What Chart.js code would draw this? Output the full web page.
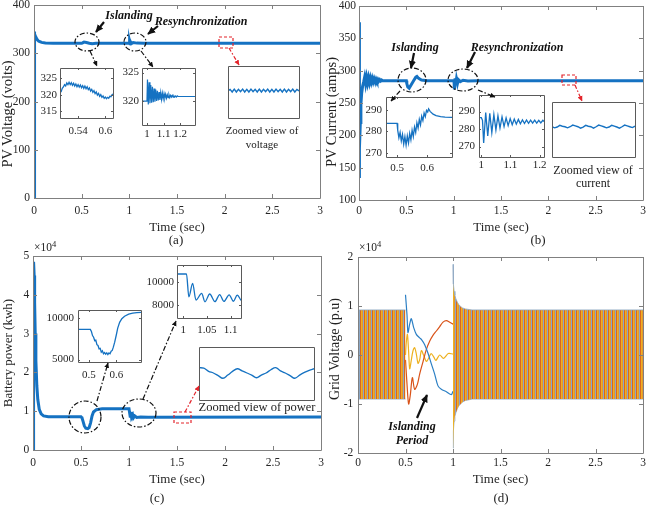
<!DOCTYPE html>
<html>
<head>
<meta charset="utf-8">
<title>PV, battery and grid response</title>
<script src="https://cdn.jsdelivr.net/npm/chart.js@4.4.1/dist/chart.umd.min.js"></script>
<style>
  html, body { margin: 0; padding: 0; background: #fff; }
  #fig { position: relative; width: 647px; height: 505px; overflow: hidden; background: #fff; }
  #fig canvas { position: absolute; }
  #ann { position: absolute; left: 0; top: 0; pointer-events: none; font-family: "Liberation Serif", serif; fill: #222; }
  #ann .note { font-weight: bold; font-style: italic; font-size: 12px; fill: #111; }
</style>
</head>
<body>
<div id="fig">
  <canvas id="ca" width="324" height="240" style="left:0;top:0"></canvas>
  <canvas id="cb" width="323" height="240" style="left:324px;top:0"></canvas>
  <canvas id="cc" width="324" height="260" style="left:0;top:245px"></canvas>
  <canvas id="cd" width="323" height="260" style="left:324px;top:245px"></canvas>

  <canvas id="a1" width="78" height="75" style="left:38px;top:65px"></canvas>
  <canvas id="a2" width="78" height="82" style="left:120px;top:65px"></canvas>
  <canvas id="a3" width="77" height="58" style="left:225px;top:63px"></canvas>
  <canvas id="b1" width="91" height="85" style="left:364px;top:94px"></canvas>
  <canvas id="b2" width="90" height="87" style="left:457px;top:92px"></canvas>
  <canvas id="b3" width="89" height="61" style="left:549px;top:99px"></canvas>
  <canvas id="c1" width="100" height="77" style="left:44px;top:307px"></canvas>
  <canvas id="c2" width="101" height="78" style="left:143px;top:262px"></canvas>
  <canvas id="c3" width="121" height="59" style="left:196px;top:344px"></canvas>

  <svg id="ann" width="647" height="505" viewBox="0 0 647 505">
    <defs>
      <marker id="hk" viewBox="0 0 10 10" refX="9" refY="5" markerUnits="userSpaceOnUse" markerWidth="8" markerHeight="8" orient="auto"><path d="M0,0.5 L10,5 L0,9.5 z" fill="#111"/></marker>
      <marker id="hs" viewBox="0 0 10 10" refX="9" refY="5" markerUnits="userSpaceOnUse" markerWidth="5.5" markerHeight="5.5" orient="auto"><path d="M0,0.5 L10,5 L0,9.5 z" fill="#111"/></marker>
      <marker id="hr" viewBox="0 0 10 10" refX="9" refY="5" markerUnits="userSpaceOnUse" markerWidth="5.5" markerHeight="5.5" orient="auto"><path d="M0,0.5 L10,5 L0,9.5 z" fill="#e3242b"/></marker>
    </defs>

    <!-- solid pointers from the event labels -->
    <g stroke="#111" stroke-width="2.2" fill="none">
      <line x1="104" y1="22" x2="96" y2="32" marker-end="url(#hk)"/>
      <line x1="158" y1="26" x2="148" y2="34" marker-end="url(#hk)"/>
      <line x1="414" y1="53" x2="411" y2="68" marker-end="url(#hk)"/>
      <line x1="475" y1="52" x2="467" y2="68" marker-end="url(#hk)"/>
      <line x1="417" y1="418" x2="427" y2="395" marker-end="url(#hk)"/>
    </g>

    <!-- dash-dot circles and leaders to the insets -->
    <g stroke="#111" stroke-width="1.2" fill="none" stroke-dasharray="5 2 1.5 2">
      <ellipse cx="87" cy="42" rx="12" ry="9"/>
      <ellipse cx="135" cy="42" rx="11" ry="9"/>
      <ellipse cx="412" cy="80" rx="14" ry="12"/>
      <ellipse cx="463" cy="80" rx="15" ry="11"/>
      <ellipse cx="85" cy="417" rx="16" ry="16"/>
      <ellipse cx="139" cy="413" rx="17" ry="14"/>
      <line x1="90" y1="51" x2="97" y2="66" marker-end="url(#hs)"/>
      <line x1="141" y1="51" x2="153" y2="67" marker-end="url(#hs)"/>
      <line x1="400" y1="91" x2="391" y2="101" marker-end="url(#hs)"/>
      <line x1="478" y1="90" x2="495" y2="97" marker-end="url(#hs)"/>
      <line x1="97" y1="401" x2="108" y2="363" marker-end="url(#hs)"/>
      <line x1="143" y1="399" x2="176" y2="321" marker-end="url(#hs)"/>
    </g>

    <!-- red zoom markers -->
    <g stroke="#e3242b" stroke-width="1.2" fill="none">
      <rect x="219" y="37" width="14" height="11" stroke-dasharray="3 2"/>
      <rect x="562" y="75" width="14" height="10" stroke-dasharray="3 2"/>
      <rect x="174" y="412" width="17" height="11" stroke-dasharray="3 2"/>
      <line x1="229" y1="48" x2="239" y2="65" stroke-dasharray="4 2 1.5 2" marker-end="url(#hr)"/>
      <line x1="575" y1="85" x2="582" y2="101" stroke-dasharray="4 2 1.5 2" marker-end="url(#hr)"/>
      <line x1="185" y1="412" x2="199" y2="386" stroke-dasharray="4 2 1.5 2" marker-end="url(#hr)"/>
    </g>

    <g text-anchor="middle" dominant-baseline="central">
      <text class="note" x="129" y="15">Islanding</text>
      <text class="note" x="201" y="21">Resynchronization</text>
      <text class="note" x="415" y="47">Islanding</text>
      <text class="note" x="517" y="47">Resynchronization</text>
      <text class="note" x="412" y="426">Islanding</text>
      <text class="note" x="412" y="440">Period</text>

      <text x="262" y="130" font-size="11">Zoomed view of</text>
      <text x="262" y="144" font-size="11">voltage</text>
      <text x="593" y="170" font-size="12">Zoomed view of</text>
      <text x="593" y="183" font-size="12">current</text>
      <text x="257" y="407" font-size="12.5">Zoomed view of power</text>

      <text x="176" y="239" font-size="13">(a)</text>
      <text x="538" y="239" font-size="13">(b)</text>
      <text x="157" y="497" font-size="13">(c)</text>
      <text x="501" y="497" font-size="13">(d)</text>

      <text transform="translate(6.5,114) rotate(-90)" font-size="14.5">PV Voltage (volts)</text>
      <text transform="translate(331,112) rotate(-90)" font-size="14.5">PV Current (amps)</text>
      <text transform="translate(7,353) rotate(-90)" font-size="13">Battery power (kwh)</text>
      <text transform="translate(334,349) rotate(-90)" font-size="14">Grid Voltage (p.u)</text>
    </g>
    <text x="34" y="251" font-size="11.5">×10<tspan dy="-4" font-size="8.5">4</tspan></text>
    <text x="359" y="251" font-size="11.5">×10<tspan dy="-4" font-size="8.5">4</tspan></text>
  </svg>
</div>

<script>
// ---- (a) PV voltage ----
const tA = [0, 0.002, 0.005, 0.01, 0.02, 0.035, 0.05, 0.08, 0.12, 0.2, 0.5, 0.51, 0.525, 0.55, 0.58, 0.61, 0.65, 1.0, 1.003, 1.008, 1.013, 1.02, 1.04, 1.08, 1.15, 3];
const vA = [0, 330, 345, 340, 333, 328, 325, 322.5, 321.2, 320.5, 320.5, 321.5, 323.3, 322.4, 320.8, 319.6, 320.5, 320.5, 324, 319.5, 323, 320, 322, 321, 320.8, 320.8];

const tA1 = [0.5, 0.5025, 0.505, 0.5075, 0.51, 0.5125, 0.515, 0.5175, 0.52, 0.5225, 0.525, 0.5275, 0.53, 0.5325, 0.535, 0.5375, 0.54, 0.5425, 0.545, 0.5475, 0.55, 0.5525, 0.555, 0.5575, 0.56, 0.5625, 0.565, 0.5675, 0.57, 0.5725, 0.575, 0.5775, 0.58, 0.5825, 0.585, 0.5875, 0.59, 0.5925, 0.595, 0.5975, 0.6, 0.6025, 0.605, 0.6075, 0.61, 0.6125, 0.615, 0.617];
const vA1 = [320.8, 320.9, 321.9, 322.3, 323.0, 322.6, 323.5, 323.0, 323.7, 323.0, 323.6, 322.8, 323.4, 322.6, 323.2, 322.4, 323.0, 322.3, 322.9, 322.1, 322.7, 321.9, 322.6, 321.8, 322.4, 321.5, 322.0, 321.1, 321.6, 320.7, 321.2, 320.3, 320.8, 319.9, 320.4, 319.5, 320.0, 319.2, 319.6, 318.9, 319.3, 318.8, 319.2, 318.9, 319.5, 319.4, 320.0, 320.2];

const tA2 = [0.97, 1.0, 1.003, 1.008, 1.013, 1.018, 1.023, 1.028, 1.033, 1.038, 1.043, 1.048, 1.053, 1.058, 1.063, 1.068, 1.073, 1.078, 1.083, 1.088, 1.093, 1.098, 1.103, 1.108, 1.113, 1.118, 1.123, 1.128, 1.133, 1.138, 1.143, 1.148, 1.153, 1.158, 1.163, 1.168, 1.173, 1.178, 1.183, 1.188, 1.2, 1.29];
const vA2 = [320, 320, 323.8, 319.4, 323.3, 319.6, 322.8, 319.7, 322.5, 319.8, 322.2, 319.9, 322.0, 320.0, 321.8, 320.1, 321.6, 320.2, 321.5, 320.3, 321.4, 320.4, 321.3, 320.5, 321.2, 320.5, 321.1, 320.6, 321.1, 320.6, 321.0, 320.7, 321.0, 320.7, 320.9, 320.7, 320.9, 320.7, 320.9, 320.8, 320.8, 320.8];

const zoomVoltage = [0.52, 0.55, 0.5, 0.555, 0.5, 0.55, 0.505, 0.555, 0.5, 0.55, 0.5, 0.555, 0.505, 0.55, 0.5, 0.555, 0.5, 0.55, 0.505, 0.555, 0.5, 0.55, 0.5, 0.555, 0.505, 0.55, 0.5, 0.555, 0.5, 0.55, 0.505, 0.555, 0.5, 0.55, 0.52];

// ---- (b) PV current ----
const tB = [0, 0.001, 0.003, 0.005, 0.009, 0.014, 0.02, 0.028, 0.038, 0.05, 0.06, 0.07, 0.08, 0.09, 0.1, 0.11, 0.12, 0.13, 0.14, 0.15, 0.16, 0.17, 0.18, 0.19, 0.2, 0.21, 0.22, 0.23, 0.24, 0.25, 0.3, 0.5, 0.505, 0.515, 0.53, 0.55, 0.575, 0.6, 0.612, 0.63, 0.66, 0.72, 1.0, 1.004, 1.008, 1.015, 1.022, 1.03, 1.04, 1.05, 1.07, 1.1, 1.15, 1.25, 3];
const vB = [150, 375, 250, 134, 180, 220, 248, 265, 276, 283, 290, 280, 289.5, 281, 289, 281.5, 288.5, 282, 288, 282.5, 287.5, 283, 287, 283.5, 286.5, 283.8, 286, 284, 285.5, 284.3, 284.5, 284.5, 280, 275, 273, 278, 284, 290, 291, 288, 285.5, 284.5, 284.5, 283, 271, 288, 278, 287, 280, 286, 283, 285.2, 284.2, 284.5, 284.5];

const tB1 = [0.463, 0.5, 0.502, 0.506, 0.51, 0.514, 0.518, 0.522, 0.526, 0.53, 0.534, 0.538, 0.542, 0.546, 0.55, 0.554, 0.558, 0.562, 0.566, 0.57, 0.574, 0.578, 0.582, 0.586, 0.59, 0.594, 0.598, 0.602, 0.605, 0.61, 0.62, 0.63, 0.645, 0.66, 0.683];
const vB1 = [283.7, 283.7, 280.5, 277.0, 279.5, 275.5, 278.5, 274.0, 277.5, 273.5, 277.8, 274.5, 279.0, 276.0, 280.5, 277.5, 282.0, 279.5, 284.0, 281.5, 285.5, 283.0, 287.0, 285.0, 288.5, 286.8, 289.8, 289.0, 290.5, 289.3, 288.0, 287.3, 286.8, 286.6, 286.5];

const tB2 = [0.992, 1.0, 1.004, 1.008, 1.015, 1.022, 1.029, 1.036, 1.043, 1.05, 1.057, 1.064, 1.071, 1.078, 1.085, 1.092, 1.099, 1.106, 1.113, 1.12, 1.127, 1.134, 1.141, 1.148, 1.155, 1.162, 1.169, 1.176, 1.183, 1.19, 1.197, 1.204, 1.211, 1.215];
const vB2 = [286.5, 286.5, 285, 272, 289.5, 276, 289, 278, 288.3, 279.5, 287.6, 280.6, 287, 281.4, 286.4, 282, 286, 282.5, 285.7, 282.8, 285.5, 283, 285.3, 283.2, 285.2, 283.3, 285.1, 283.4, 285.1, 283.4, 285, 283.5, 285, 284.3];

const zoomCurrent = [0.55, 0.53, 0.545, 0.575, 0.56, 0.55, 0.53, 0.55, 0.58, 0.565, 0.55, 0.525, 0.545, 0.575, 0.56, 0.55, 0.525, 0.55, 0.58, 0.565, 0.55, 0.53, 0.545, 0.575, 0.56, 0.545, 0.525, 0.55, 0.58, 0.565, 0.55, 0.535, 0.56];

// ---- (c) battery power ----
const tC = [0, 0.004, 0.008, 0.012, 0.017, 0.023, 0.03, 0.04, 0.05, 0.065, 0.085, 0.11, 0.16, 0.3, 0.5, 0.51, 0.52, 0.535, 0.55, 0.57, 0.585, 0.6, 0.615, 0.63, 0.66, 0.72, 1.0, 1.006, 1.012, 1.02, 1.027, 1.039, 1.046, 1.06, 1.08, 1.12, 1.2, 3];
const vC = [0, 30000, 48500, 45000, 38000, 30000, 23000, 16500, 13000, 10500, 9300, 8800, 8600, 8550, 8550, 8300, 7500, 6200, 5600, 5500, 5800, 7000, 8800, 9800, 10400, 10600, 10600, 10600, 8700, 9800, 8400, 9000, 8300, 8800, 8400, 8500, 8450, 8500];

const tC1 = [0.46, 0.505, 0.509, 0.513, 0.517, 0.521, 0.525, 0.529, 0.533, 0.537, 0.541, 0.545, 0.549, 0.553, 0.557, 0.561, 0.565, 0.569, 0.573, 0.577, 0.581, 0.585, 0.589, 0.594, 0.6, 0.605, 0.612, 0.62, 0.63, 0.645, 0.66, 0.675, 0.69];
const vC1 = [8650, 8650, 8400, 7900, 7700, 7300, 7350, 6800, 6700, 6300, 6350, 5900, 6050, 5700, 5850, 5650, 5800, 5600, 5800, 5700, 6000, 6100, 6500, 7100, 8000, 8800, 9500, 9950, 10250, 10500, 10620, 10680, 10720];

const tC2 = [0.987, 1.007, 1.012, 1.02, 1.027, 1.039, 1.046, 1.056, 1.067, 1.077, 1.086, 1.097, 1.106, 1.114, 1.122];
const vC2 = [10660, 10660, 8710, 9860, 8430, 9000, 8290, 8950, 8300, 8900, 8320, 8880, 8330, 8850, 8400];

const zoomPower = [0.61, 0.6, 0.54, 0.51, 0.46, 0.41, 0.47, 0.54, 0.59, 0.55, 0.51, 0.47, 0.42, 0.47, 0.51, 0.57, 0.61, 0.55, 0.51, 0.46, 0.41, 0.47, 0.52, 0.56, 0.59];

// ---- (d) grid voltage: envelope of the dense three-phase band + islanding traces ----
const tBand1 = [0, 0.5];
const upBand1 = [9200, 9200];
const loBand1 = [-9000, -9000];
const tBand2 = [1.0, 1.002, 1.006, 1.012, 1.02, 1.03, 1.045, 1.06, 1.08, 1.1, 1.13, 1.2, 3];
const upBand2 = [18500, 16000, 14500, 13000, 12200, 11500, 10800, 10300, 9900, 9600, 9400, 9200, 9200];
const loBand2 = [-19000, -17000, -15500, -13500, -12500, -11800, -11000, -10400, -10000, -9600, -9300, -9000, -9000];

const tBlueD = [0.5, 0.516, 0.526, 0.544, 0.561, 0.586, 0.614, 0.649, 0.667, 0.702, 0.737, 0.772, 0.807, 0.842, 0.877, 0.93, 0.982, 1.0];
const blueD = [12300, 8100, 4600, 6300, 7400, 5600, 4200, 3500, 3200, 2100, 350, -1800, -3900, -6300, -7000, -7500, -8100, -7400];
const tOrangeD = [0.5, 0.516, 0.533, 0.551, 0.572, 0.596, 0.625, 0.649, 0.684, 0.719, 0.754, 0.789, 0.825, 0.86, 0.895, 0.93, 0.965, 1.0];
const orangeD = [-1000, -6000, -10000, -8100, -4600, -7000, -6000, -3900, -1400, 1100, 2800, 4000, 4900, 5800, 6700, 7000, 6700, 6300];
const tYellowD = [0.5, 0.508, 0.52, 0.532, 0.544, 0.56, 0.578, 0.596, 0.614, 0.632, 0.65, 0.667, 0.69, 0.72, 0.745, 0.77, 0.8, 0.82, 0.86, 0.9, 0.95, 1.0];
const yellowD = [0, 2500, 4200, 1000, -2800, -1200, 800, 1500, 200, -1700, -900, 900, 0, -1300, -600, 300, -500, -1100, 0, -700, 300, 200];

const FONT = '"Liberation Serif", "Times New Roman", serif';
const TXT = '#262626';
const BLUE = '#1572c2';
const ORANGE = '#d95319';
const YELLOW = '#edb120';

const pts = (t, v) => t.map((x, i) => ({ x, y: v[i] }));
const idx = (v) => v.map((y, i) => ({ x: i, y }));
const line = (data, color, w, extra) =>
  Object.assign({ data, borderColor: color, borderWidth: w, pointRadius: 0, fill: false, tension: 0 }, extra || {});

// MATLAB-like box: white plot area, grey frame, ticks pointing inwards
Chart.register({
  id: 'matBox',
  beforeDatasetsDraw(chart) {
    const { ctx, chartArea: a } = chart;
    ctx.save();
    ctx.fillStyle = '#fff';
    ctx.fillRect(a.left, a.top, a.right - a.left, a.bottom - a.top);
    ctx.restore();
  },
  afterDraw(chart, args, o) {
    const { ctx, chartArea: a, scales } = chart;
    const len = o.len || 0;
    ctx.save();
    ctx.strokeStyle = o.color || '#6e6e6e';
    ctx.lineWidth = 1;
    ctx.beginPath();
    if (len) {
      scales.x.ticks.forEach((t) => {
        const p = Math.round(scales.x.getPixelForValue(t.value)) + 0.5;
        ctx.moveTo(p, a.bottom); ctx.lineTo(p, a.bottom - len);
        ctx.moveTo(p, a.top); ctx.lineTo(p, a.top + len);
      });
      scales.y.ticks.forEach((t) => {
        const p = Math.round(scales.y.getPixelForValue(t.value)) + 0.5;
        ctx.moveTo(a.left, p); ctx.lineTo(a.left + len, p);
        ctx.moveTo(a.right, p); ctx.lineTo(a.right - len, p);
      });
    }
    ctx.rect(Math.round(a.left) + 0.5, Math.round(a.top) + 0.5, Math.round(a.right - a.left), Math.round(a.bottom - a.top));
    ctx.stroke();
    ctx.restore();
  }
});

const baseOpts = () => ({
  responsive: false,
  animation: false,
  events: [],
  plugins: { legend: { display: false }, tooltip: { enabled: false } },
  elements: { point: { radius: 0 } }
});

// fix the axis band size and drop the label overhang padding so the plot box lands where we want it
const fixX = (h) => (s) => { s.height = h; s.paddingLeft = 0; s.paddingRight = 0; };
const fixY = (w) => (s) => { s.width = w; s.paddingTop = 0; s.paddingBottom = 0; };

function mainChart(id, datasets, o) {
  const opts = baseOpts();
  opts.layout = { padding: { left: 0, top: o.top, right: o.right, bottom: 0 } };
  opts.plugins.matBox = { len: 4, color: '#808080' };
  opts.scales = {
    x: {
      type: 'linear', min: 0, max: 3,
      ticks: { stepSize: 0.5, padding: o.xpad, color: TXT, font: { family: FONT, size: 11.5 }, maxRotation: 0, autoSkip: false, callback: (v) => String(v) },
      grid: { display: false, drawTicks: false },
      border: { display: false },
      title: { display: true, text: 'Time (sec)', color: TXT, font: { family: FONT, size: 13 }, padding: { top: 0, bottom: o.tpad } },
      afterFit: fixX(o.xh)
    },
    y: {
      type: 'linear', min: o.ymin, max: o.ymax,
      ticks: { stepSize: o.ystep, padding: o.ypad, color: TXT, font: { family: FONT, size: 11.5 }, callback: o.ylab || ((v) => String(v)) },
      grid: { display: false, drawTicks: false },
      border: { display: false },
      afterFit: fixY(o.yw)
    }
  };
  return new Chart(document.getElementById(id), { type: 'line', data: { datasets }, options: opts });
}

function insetAxis(ax, horizontal) {
  return {
    type: 'linear', min: ax.min, max: ax.max, display: !!ax.ticks,
    afterBuildTicks: (s) => { if (ax.ticks) s.ticks = ax.ticks.map((v) => ({ value: v })); },
    ticks: { padding: ax.pad || 0, color: TXT, font: { family: FONT, size: 11 }, callback: (v) => String(v), autoSkip: false, maxRotation: 0 },
    grid: { display: false, drawTicks: false },
    border: { display: false },
    afterFit: (s) => {
      if (ax.size == null) return;
      if (horizontal) fixX(ax.size)(s); else fixY(ax.size)(s);
    }
  };
}

function inset(id, datasets, o) {
  const opts = baseOpts();
  const labelled = !!o.x.ticks;
  opts.layout = { padding: labelled ? { left: 0, top: 3, right: 3, bottom: 0 } : 3 };
  opts.plugins.matBox = { len: labelled ? 2 : 0, color: '#5a5a5a' };
  opts.scales = { x: insetAxis(o.x, true), y: insetAxis(o.y, false) };
  return new Chart(document.getElementById(id), { type: 'line', data: { datasets }, options: opts });
}

function stripes() {
  const c = document.createElement('canvas');
  c.width = 4; c.height = 2;
  const g = c.getContext('2d');
  ['#d9661f', '#edb120', '#e6952f', '#8aa8c8'].forEach((col, i) => { g.fillStyle = col; g.fillRect(i, 0, 1, 2); });
  return g.createPattern(c, 'repeat');
}

// main panels
mainChart('ca', [line(pts(tA, vA), BLUE, 3)],
  { top: 5, right: 4, yw: 34, xh: 42, xpad: 6, ypad: 4, tpad: 5, ymin: 0, ymax: 400, ystep: 100 });

mainChart('cb', [line(pts(tB, vB), BLUE, 3)],
  { top: 6, right: 4, yw: 35, xh: 40, xpad: 4, ypad: 3, tpad: 4.5, ymin: 100, ymax: 400, ystep: 50 });

mainChart('cc', [line(pts(tC, vC), BLUE, 3)],
  { top: 11, right: 3, yw: 33, xh: 55, xpad: 6.4, ypad: 3.7, tpad: 18, ymin: 0, ymax: 50000, ystep: 10000, ylab: (v) => String(v / 1e4) });

const band = stripes();
const bandSet = (t, v, fill) => line(pts(t, v), '#8fa9c4', 0.8, { fill: fill ? '+1' : false, backgroundColor: band });
mainChart('cd', [
  bandSet(tBand1, upBand1, true), bandSet(tBand1, loBand1, false),
  bandSet(tBand2, upBand2, true), bandSet(tBand2, loBand2, false),
  line(pts(tBlueD, blueD), '#2b7fc4', 1.2, { tension: 0.3 }),
  line(pts(tOrangeD, orangeD), ORANGE, 1.2, { tension: 0.3 }),
  line(pts(tYellowD, yellowD), YELLOW, 1.2, { tension: 0.3 })
], { top: 12, right: 4, yw: 34, xh: 52, xpad: 3.4, ypad: 4.7, tpad: 17.2, ymin: -20000, ymax: 20000, ystep: 10000, ylab: (v) => String(v / 1e4) });

// insets
inset('a1', [line(pts(tA1, vA1), BLUE, 1.3)],
  { x: { min: 0.5, max: 0.617, ticks: [0.54, 0.6], pad: 6.4, size: 22 }, y: { min: 313, max: 328, ticks: [315, 320, 325], pad: 3, size: 22 } });
inset('a2', [line(pts(tA2, vA2), BLUE, 1.2)],
  { x: { min: 0.97, max: 1.29, ticks: [1, 1.1, 1.2], pad: 2.4, size: 22 }, y: { min: 315.8, max: 325.8, ticks: [320, 325], pad: 3, size: 22 } });
inset('a3', [line(idx(zoomVoltage), BLUE, 1.4)],
  { x: { min: 0, max: zoomVoltage.length - 1 }, y: { min: 0, max: 1 } });

inset('b1', [line(pts(tB1, vB1), BLUE, 1.3)],
  { x: { min: 0.463, max: 0.683, ticks: [0.5, 0.6], pad: 4.7, size: 22 }, y: { min: 268, max: 296, ticks: [270, 280, 290], pad: 4, size: 22 } });
inset('b2', [line(pts(tB2, vB2), BLUE, 1.3)],
  { x: { min: 0.992, max: 1.215, ticks: [1, 1.1, 1.2], pad: 1.4, size: 22 }, y: { min: 264, max: 299.5, ticks: [270, 280, 290], pad: 4, size: 22 } });
inset('b3', [line(idx(zoomCurrent), BLUE, 1.4)],
  { x: { min: 0, max: zoomCurrent.length - 1 }, y: { min: 0, max: 1 } });

inset('c1', [line(pts(tC1, vC1), BLUE, 1.3)],
  { x: { min: 0.46, max: 0.69, ticks: [0.5, 0.6], pad: 6.4, size: 22 }, y: { min: 4700, max: 11000, ticks: [5000, 10000], pad: 4, size: 34 } });
inset('c2', [line(pts(tC2, vC2), BLUE, 1.3, { cubicInterpolationMode: 'monotone' })],
  { x: { min: 0.987, max: 1.122, ticks: [1, 1.05, 1.1], pad: 5.4, size: 22 }, y: { min: 6900, max: 11430, ticks: [8000, 10000], pad: 3, size: 34 } });
inset('c3', [line(idx(zoomPower), BLUE, 1.3, { tension: 0.4 })],
  { x: { min: 0, max: zoomPower.length - 1 }, y: { min: 0, max: 1 } });
</script>
</body>
</html>
